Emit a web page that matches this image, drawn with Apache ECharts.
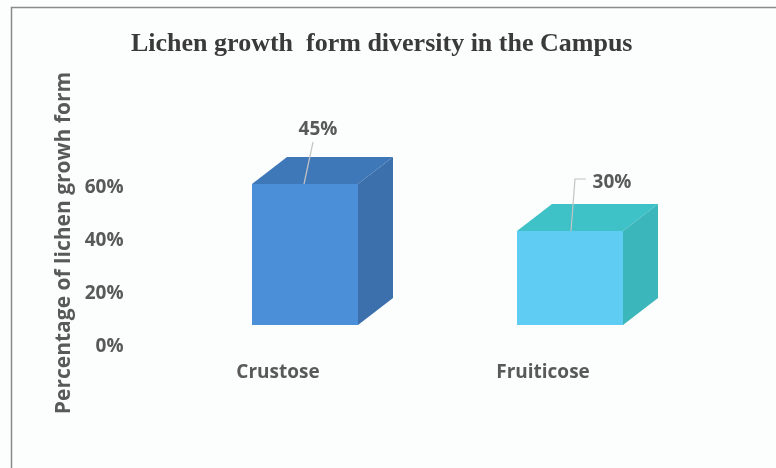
<!DOCTYPE html>
<html>
<head>
<meta charset="utf-8">
<script src="https://cdn.jsdelivr.net/npm/echarts@6/dist/echarts.min.js"></script>
<style>
  html, body { margin: 0; padding: 0; background: #fcfdfd; }
  #chart { width: 776px; height: 468px; }
</style>
</head>
<body>
<div id="chart"></div>
<script>
var categories = ['Crustose', 'Fruiticose'];
var values = [45, 30];
var percentTicks = [0, 20, 40, 60];

// face colours: front, top, side
var faceColors = [
  ['#4a8fd8', '#3f78b8', '#3b70ad'],
  ['#5fcdf3', '#3ec1c7', '#3bb7bb']
];
// label placement relative to the top of each front face
var labelShift = [[13, -54], [42, -48]];

var grey = '#595959';
var depthX = 35, depthY = -27;

var chart = echarts.init(document.getElementById('chart'), null, { renderer: 'canvas' });

function renderBox(params, api) {
  var i = params.dataIndex;
  var top = api.coord([api.value(0), api.value(1)]);
  var base = api.coord([api.value(0), 0]);
  var w = api.size([1, 0])[0] * 0.4;
  var x0 = top[0] - w / 2, x1 = top[0] + w / 2;
  var y0 = top[1], y1 = base[1];
  var c = faceColors[i];
  var s = labelShift[i];
  var lx = top[0] + s[0], ly = y0 + s[1];
  var leader = i === 0
    ? [[top[0] - 1, y0], [lx - 5, ly + 12]]
    : [[top[0] + 1, y0], [top[0] + 5, ly - 4], [lx - 26, ly - 4]];
  return {
    type: 'group',
    children: [
      { type: 'polygon', shape: { points: [[x0, y0], [x1, y0], [x1 + depthX, y0 + depthY], [x0 + depthX, y0 + depthY]] }, style: { fill: c[1] } },
      { type: 'polygon', shape: { points: [[x1, y0], [x1 + depthX, y0 + depthY], [x1 + depthX, y1 + depthY], [x1, y1]] }, style: { fill: c[2] } },
      { type: 'rect', shape: { x: x0, y: y0, width: w, height: y1 - y0 }, style: { fill: c[0] } },
      { type: 'polyline', shape: { points: leader }, style: { stroke: '#c4c4c4', lineWidth: 1.2, fill: null } },
      { type: 'text', x: lx, y: ly, style: { text: api.value(1) + '%', fill: grey, font: 'bold 19px "Open Sans"', align: 'center', verticalAlign: 'middle' } }
    ]
  };
}

var option = {
  backgroundColor: '#fcfdfd',
  animation: false,
  title: {
    text: 'Lichen growth  form diversity in the Campus',
    left: 126,
    top: 26,
    textStyle: { fontFamily: 'Liberation Serif', fontWeight: 'bold', fontSize: 26, color: '#3a3a3a' }
  },
  graphic: [
    { type: 'rect', shape: { x: 11.5, y: 7.5, width: 800, height: 500 }, style: { fill: null, stroke: '#8a8a8a', lineWidth: 1.5 }, silent: true },
    { type: 'text', x: 64, y: 243, rotation: Math.PI / 2, style: { text: 'Percentage of lichen growh form', fill: grey, font: 'bold 21px "Open Sans"', align: 'center', verticalAlign: 'middle' } }
  ],
  grid: [
    { left: 145.5, right: 100.5, top: 188, bottom: 121 },
    { left: 172.5, right: 73.5, top: 137, bottom: 143 }
  ],
  xAxis: [
    {
      gridIndex: 0, type: 'category', data: categories,
      axisLine: { show: false }, axisTick: { show: false },
      axisLabel: { margin: 16, color: grey, fontFamily: 'Open Sans', fontWeight: 'bold', fontSize: 19 }
    },
    {
      gridIndex: 1, type: 'category', data: categories, show: false
    }
  ],
  yAxis: [
    {
      gridIndex: 0, type: 'value', min: percentTicks[0], max: percentTicks[percentTicks.length - 1], interval: 20,
      axisLine: { show: false }, axisTick: { show: false }, splitLine: { show: false },
      axisLabel: { formatter: '{value}%', margin: 22, color: grey, fontFamily: 'Open Sans', fontWeight: 'bold', fontSize: 19 }
    },
    {
      gridIndex: 1, type: 'value', min: 0, max: 60, show: false, splitLine: { show: false }
    }
  ],
  series: [
    {
      type: 'custom',
      xAxisIndex: 1,
      yAxisIndex: 1,
      clip: false,
      renderItem: renderBox,
      encode: { x: 0, y: 1 },
      data: categories.map(function (c, i) { return [i, values[i]]; })
    }
  ]
};

chart.setOption(option);
</script>
</body>
</html>
